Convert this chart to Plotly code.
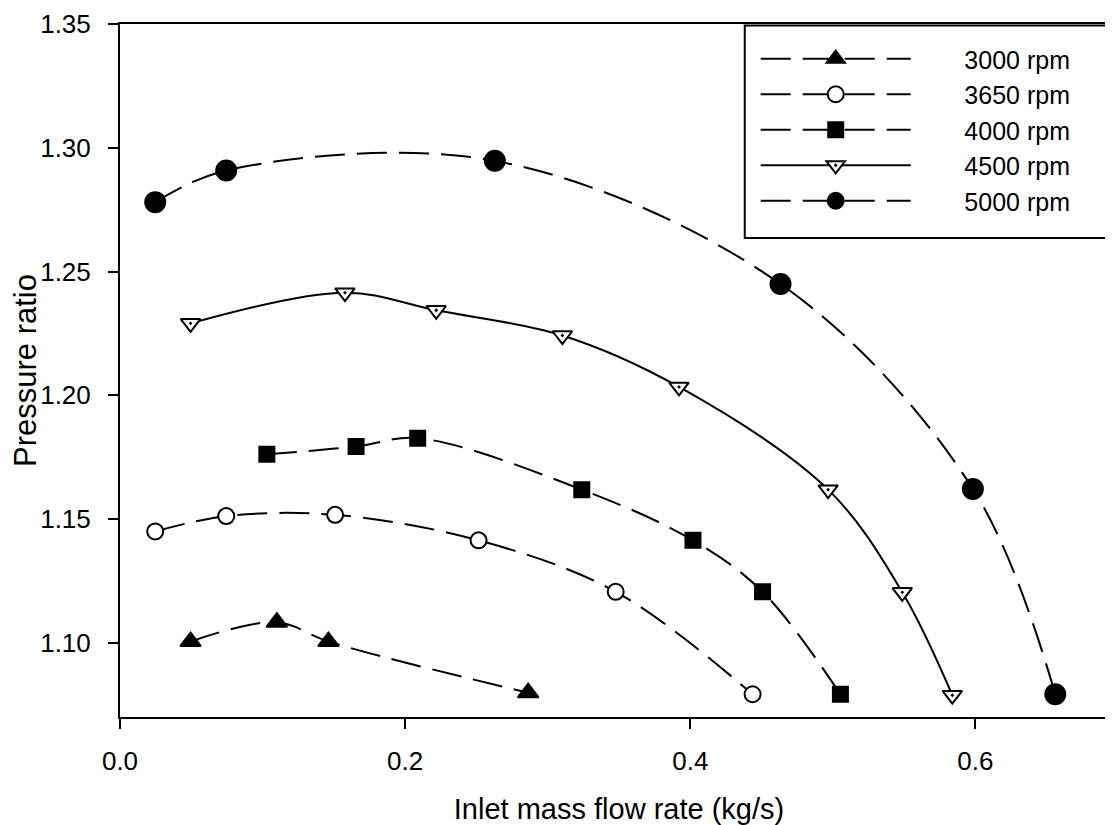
import plotly.graph_objects as go

# Data
x_3000 = [0.0495, 0.110, 0.1462, 0.2863]
y_3000 = [1.1005, 1.1083, 1.1005, 1.0798]

x_3650 = [0.0247, 0.0745, 0.1509, 0.2515, 0.3477, 0.4437]
y_3650 = [1.1450, 1.1512, 1.1517, 1.1414, 1.1206, 1.0792]

x_4000 = [0.103, 0.1656, 0.2088, 0.3239, 0.4019, 0.4507, 0.5053]
y_4000 = [1.1762, 1.1793, 1.1827, 1.1619, 1.1414, 1.1206, 1.0792]

x_4500 = [0.0495, 0.1578, 0.2218, 0.3103, 0.3921, 0.4967, 0.5487, 0.5838]
y_4500 = [1.2291, 1.2415, 1.2344, 1.2242, 1.2034, 1.1619, 1.1204, 1.0788]

x_5000 = [0.0247, 0.0745, 0.2629, 0.4633, 0.5982, 0.6560]
y_5000 = [1.2781, 1.2909, 1.2948, 1.2450, 1.1622, 1.0792]

series_names = ["3000 rpm", "3650 rpm", "4000 rpm", "4500 rpm", "5000 rpm"]
x_ticks = [0.0, 0.2, 0.4, 0.6]
y_ticks = [1.10, 1.15, 1.20, 1.25, 1.30, 1.35]

FONT = "Liberation Sans, Arial, sans-serif"
DASH = "30px,12px"
PAD = "\u00a0" * 7  # gap between legend symbol and text

styles = [
    dict(symbol="triangle-up", color="black", size=18, dash=DASH),
    dict(symbol="circle", color="white", size=16, dash=DASH),
    dict(symbol="square", color="black", size=15, dash=DASH),
    dict(symbol="triangle-down-dot", color="white", size=17, dash="solid"),
    dict(symbol="circle", color="black", size=20, dash=DASH),
]
xs = [x_3000, x_3650, x_4000, x_4500, x_5000]
ys = [y_3000, y_3650, y_4000, y_4500, y_5000]

fig = go.Figure()
for name, x, y, st in zip(series_names, xs, ys, styles):
    fig.add_trace(go.Scatter(
        x=x, y=y, name=PAD + name, mode="lines+markers",
        line=dict(color="black", width=2, dash=st["dash"], shape="spline", smoothing=1.0),
        marker=dict(symbol=st["symbol"], color=st["color"], size=st["size"],
                    line=dict(color="black", width=2)),
    ))

# legend box frame
TOP = 16
BOT = 116
PH = 825 - TOP - BOT
fig.add_shape(type="rect", xref="paper", yref="paper",
              x0=0.626, x1=1.0, y0=1 - (230 - TOP) / PH, y1=1 - 1.5 / PH,
              line=dict(color="black", width=2), fillcolor="white", layer="below")

fig.update_layout(
    width=1113, height=825,
    margin=dict(l=112, r=3, t=TOP, b=BOT, autoexpand=False),
    paper_bgcolor="white", plot_bgcolor="white",
    font=dict(family=FONT, size=26, color="black"),
    showlegend=True,
    legend=dict(
        x=0.637, y=1 - (28 - TOP) / PH, xanchor="left", yanchor="top",
        bgcolor="rgba(0,0,0,0)", borderwidth=0,
        font=dict(family=FONT, size=25, color="black"),
        itemwidth=150,
    ),
    xaxis=dict(
        range=[0, 0.7], tickvals=x_ticks, tickformat=".1f",
        showline=True, linecolor="black", linewidth=2, mirror=True,
        ticks="outside", ticklen=10, tickwidth=2, tickcolor="black",
        ticklabelstandoff=10, automargin=False,
        showgrid=False, zeroline=False,
        tickfont=dict(family=FONT, size=26),
        title=dict(text="Inlet mass flow rate (kg/s)", font=dict(family=FONT, size=29), standoff=23),
    ),
    yaxis=dict(
        range=[1.07, 1.3501], tickvals=y_ticks, tickformat=".2f",
        showline=True, linecolor="black", linewidth=2, mirror=True,
        ticks="outside", ticklen=10, tickwidth=2, tickcolor="black",
        ticklabelstandoff=12, ticklabeloverflow="allow", automargin=False,
        showgrid=False, zeroline=False,
        tickfont=dict(family=FONT, size=26),
        title=dict(text="Pressure ratio", font=dict(family=FONT, size=31), standoff=0),
    ),
)

fig.write_html("out.html")
